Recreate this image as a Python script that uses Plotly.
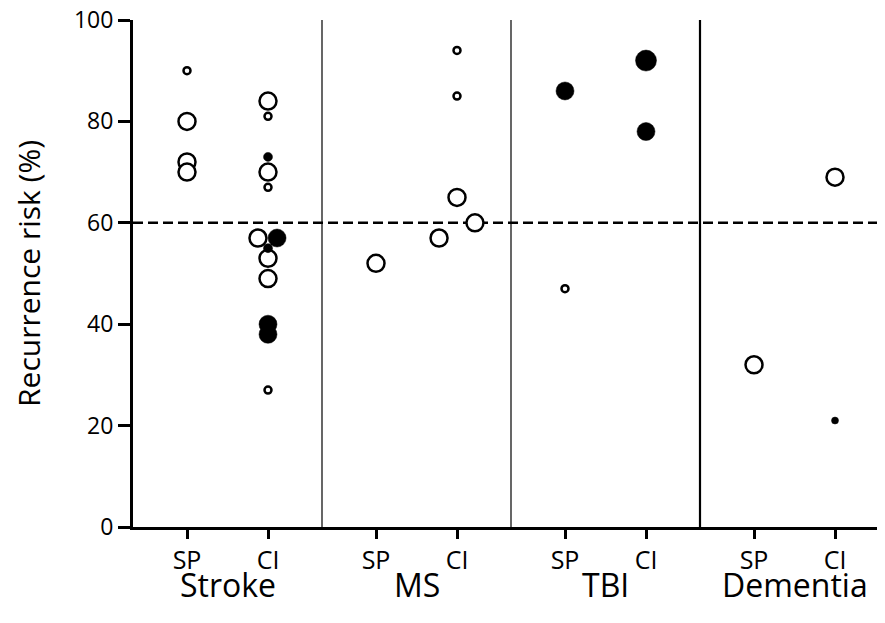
import plotly.graph_objects as go

# ---- data ----
groups = ["Stroke", "MS", "TBI", "Dementia"]
subgroups = ["SP", "CI"]

# each point: group index, subgroup, value, filled?, size class, horizontal jitter (group units)
pt_group = [0, 0, 0, 0,
            0, 0, 0, 0, 0, 0, 0, 0, 0, 0, 0, 0, 0,
            1,
            1, 1, 1, 1, 1,
            2, 2,
            2, 2,
            3,
            3, 3]
pt_sub = ["SP", "SP", "SP", "SP",
          "CI", "CI", "CI", "CI", "CI", "CI", "CI", "CI", "CI", "CI", "CI", "CI", "CI",
          "SP",
          "CI", "CI", "CI", "CI", "CI",
          "SP", "SP",
          "CI", "CI",
          "SP",
          "CI", "CI"]
pt_value = [90, 80, 72, 70,
            84, 81, 73, 70, 67, 57, 57, 55, 53, 49, 40, 38, 27,
            52,
            94, 85, 65, 57, 60,
            86, 47,
            92, 78,
            32,
            69, 21]
pt_filled = [0, 0, 0, 0,
             0, 0, 1, 0, 0, 0, 1, 1, 0, 0, 1, 1, 0,
             0,
             0, 0, 0, 0, 0,
             1, 0,
             1, 1,
             0,
             0, 1]
pt_size = ["s", "L", "L", "L",
           "L", "s", "s", "L", "s", "L", "L", "s", "L", "L", "L", "L", "s",
           "L",
           "s", "s", "L", "L", "L",
           "L", "s",
           "XL", "L",
           "L",
           "L", "xs"]
pt_jitter = [0, 0, 0, 0,
             0, 0, 0, 0, 0, -0.053, 0.048, 0, 0, 0, 0, 0, 0,
             0,
             0, 0, 0, -0.095, 0.095,
             0, 0,
             0, 0,
             0,
             0, 0]
threshold = 60
y_ticks = [0, 20, 40, 60, 80, 100]

# ---- layout helpers ----
sub_pos = {"SP": 54 / 189, "CI": 135 / 189}
open_px = {"xs": 5, "s": 7, "L": 17, "XL": 19}
fill_px = {"xs": 7, "s": 9, "L": 18, "XL": 21}

xs = [g + sub_pos[s] + j for g, s, j in zip(pt_group, pt_sub, pt_jitter)]

fig = go.Figure()

# open markers
ox = [x for x, f in zip(xs, pt_filled) if not f]
oy = [v for v, f in zip(pt_value, pt_filled) if not f]
osz = [open_px[s] for s, f in zip(pt_size, pt_filled) if not f]
fig.add_trace(go.Scatter(x=ox, y=oy, mode="markers", opacity=1,
                         marker=dict(size=osz, color="white", opacity=1,
                                     line=dict(color="black", width=2.5)),
                         showlegend=False, cliponaxis=False))
# filled markers
fx = [x for x, f in zip(xs, pt_filled) if f]
fy = [v for v, f in zip(pt_value, pt_filled) if f]
fsz = [fill_px[s] for s, f in zip(pt_size, pt_filled) if f]
fig.add_trace(go.Scatter(x=fx, y=fy, mode="markers", opacity=1,
                         marker=dict(size=fsz, color="black", opacity=1,
                                     line=dict(color="black", width=0.5)),
                         showlegend=False, cliponaxis=False))

xmax = 752 / 189

shapes = []
# threshold line
shapes.append(dict(type="line", xref="x", yref="y", x0=0, x1=xmax, y0=threshold, y1=threshold,
                   line=dict(color="black", width=2.5, dash="10px,5px"), layer="below"))
# group dividers
for g in range(1, len(groups)):
    shapes.append(dict(type="line", xref="x", yref="y", x0=g, x1=g, y0=0, y1=100,
                       line=dict(color="black", width=2.2 if g == 3 else 1.2), layer="below"))

tickvals = []
ticktext = []
for g in range(len(groups)):
    for s in subgroups:
        tickvals.append(g + sub_pos[s])
        ticktext.append(s)

font_family = "'Open Sans', 'Noto Sans', sans-serif"

annotations = []
for g, name in enumerate(groups):
    annotations.append(dict(x=g + 0.5, y=-0.114, xref="x", yref="paper", text=name,
                            showarrow=False, font=dict(size=32, color="black", family=font_family),
                            xanchor="center", yanchor="middle"))
annotations.append(dict(x=-0.139, y=0.5, xref="paper", yref="paper",
                        text="Recurrence risk (%)", textangle=-90, showarrow=False,
                        font=dict(size=30, color="black", family=font_family),
                        xanchor="center", yanchor="middle"))

fig.update_layout(
    width=885, height=623,
    margin=dict(l=125, r=8, t=12, b=104),
    paper_bgcolor="white", plot_bgcolor="white",
    font=dict(family=font_family, color="black"),
    shapes=shapes, annotations=annotations,
    xaxis=dict(range=[0, xmax], tickvals=tickvals, ticktext=ticktext, automargin=False,
               ticks="outside", ticklen=9, tickwidth=2.5, tickcolor="black",
               showline=True, linecolor="black", linewidth=3,
               showgrid=False, zeroline=False, tickfont=dict(size=25, family=font_family)),
    yaxis=dict(range=[0, 100], tickvals=y_ticks, ticks="outside", ticklen=12, automargin=False,
               tickwidth=2.5, tickcolor="black", ticklabeloverflow="allow",
               showline=True, linecolor="black", linewidth=3,
               showgrid=False, zeroline=False, tickfont=dict(size=23, family=font_family)),
)

fig.write_html("out.html")
